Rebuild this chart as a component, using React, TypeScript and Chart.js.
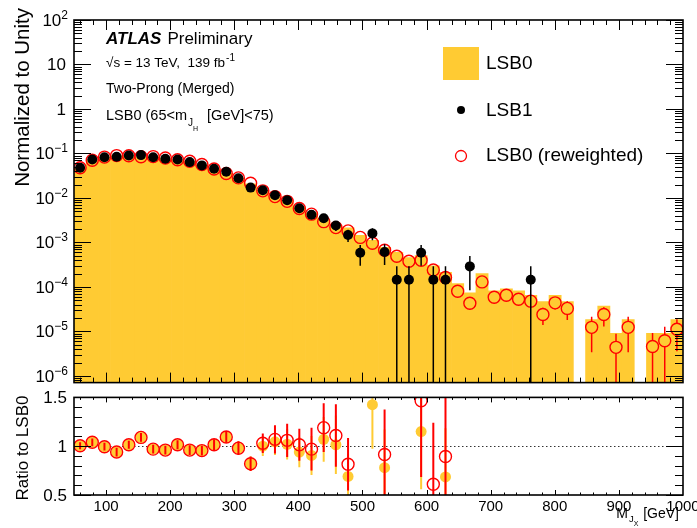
import React, { useEffect, useRef } from "react";
import { Chart, registerables } from "chart.js";

Chart.register(...registerables);

const FONT = '"Liberation Sans", Arimo, Arial, Helvetica, sans-serif';
const YELLOW = "#ffcb33";
const RED = "#ff0000";

// ---- data (bins of 19 GeV from 50 to 1000 GeV) ----
const binCenters = [
  59.5, 78.5, 97.5, 116.5, 135.5, 154.5, 173.5, 192.5, 211.5, 230.5,
  249.5, 268.5, 287.5, 306.5, 325.5, 344.5, 363.5, 382.5, 401.5, 420.5,
  439.5, 458.5, 477.5, 496.5, 515.5, 534.5, 553.5, 572.5, 591.5, 610.5,
  629.5, 648.5, 667.5, 686.5, 705.5, 724.5, 743.5, 762.5, 781.5, 800.5,
  819.5, 838.5, 857.5, 876.5, 895.5, 914.5, 933.5, 952.5, 971.5, 990.5,
];

const lsb0 = [
  0.0478, 0.0707, 0.083, 0.0897, 0.0887, 0.0844, 0.0852, 0.0792, 0.0724, 0.0667,
  0.0565, 0.0448, 0.0356, 0.0283, 0.0209, 0.0149, 0.011, 0.0087, 0.00628, 0.00464,
  0.00327, 0.00236, 0.00214, 0.00145, 0.00112, 0.00078, 0.0006, 0.00046, 0.00051, 0.0003,
  0.000213, 0.00012, 0.000074, 0.0002, 0.000082, 0.000091, 0.000082, 0.000065, 0.000047, 0.000065,
  0.000047, null, 0.0000186, 0.000037, 0.0000091, 0.0000186, null, 0.0000091, 0.0000091, 0.0000186,
];

const lsb1 = [
  0.048, 0.0735, 0.0826, 0.0843, 0.09, 0.092, 0.0826, 0.076, 0.0735, 0.064,
  0.054, 0.0455, 0.039, 0.0277, 0.0171, 0.0149, 0.0115, 0.0089, 0.0059, 0.0042,
  0.0035, 0.0024, 0.00148, 0.00059, 0.0016, 0.00061, 0.000146, 0.000146, 0.00059, 0.000146,
  0.000146, null, 0.00029, null, null, null, null, 0.000146, null, null,
  null, null, null, null, null, null, null, null, null, null,
];

const lsb1Err = [
  0.0026, 0.0033, 0.0035, 0.0035, 0.0036, 0.0037, 0.0035, 0.0033, 0.0033, 0.0031,
  0.0028, 0.0026, 0.0024, 0.002, 0.0016, 0.0015, 0.0013, 0.0011, 0.00093, 0.00078,
  0.00071, 0.00059, 0.00046, 0.00029, 0.00048, 0.0003, 0.000146, 0.000146, 0.00029, 0.000146,
  0.000146, null, 0.000206, null, null, null, null, 0.000146, null, null,
  null, null, null, null, null, null, null, null, null, null,
];

const lsb0Rew = [
  0.0478, 0.0707, 0.083, 0.0897, 0.0887, 0.0844, 0.0852, 0.0792, 0.0724, 0.0667,
  0.0565, 0.0448, 0.0356, 0.0283, 0.0215, 0.01447, 0.01075, 0.0084, 0.0058, 0.00433,
  0.00294, 0.00216, 0.00182, 0.0013, 0.00096, 0.00067, 0.00049, 0.00038, 0.0004, 0.00024,
  0.000163, 0.00008, 0.000043, 0.00013, 0.000059, 0.000065, 0.000053, 0.000048, 0.000024, 0.000044,
  0.000033, null, 0.0000124, 0.000024, 0.0000044, 0.0000124, null, 0.0000046, 0.0000062, 0.0000112,
];

const lsb0RewErr = [
  0.0012, 0.0015, 0.0016, 0.0017, 0.0017, 0.0016, 0.0016, 0.0015, 0.0014, 0.0013,
  0.0012, 0.001, 0.0009, 0.0008, 0.0006, 0.0005, 0.0004, 0.00035, 0.00028, 0.00022,
  0.00018, 0.00015, 0.00013, 0.0001, 0.00009, 0.00007, 0.00006, 0.00005, 0.00005, 0.00004,
  0.00003, 0.00002, 0.000012, 0.00003, 0.000012, 0.000013, 0.000012, 0.000011, 0.00001, 0.000013,
  0.000015, null, 0.000009, 0.000011, 0.0000045, 0.000009, null, 0.0000047, 0.0000065, 0.0000076,
];

const ratioLsb1ToLsb0 = [
  1.005, 1.04, 0.995, 0.94, 1.015, 1.09, 0.97, 0.96, 1.015, 0.96,
  0.955, 1.015, 1.095, 0.98, 0.82, 1.0, 1.045, 1.02, 0.94, 0.905,
  1.07, 1.015, 0.69, null, 1.425, 0.78, null, null, 1.15, null,
  0.685, null, null, null, null, null, null, null, null, null,
  null, null, null, null, null, null, null, null, null, null,
];

const ratioLsb1ToLsb0Err = [
  0.035, 0.04, 0.04, 0.045, 0.04, 0.045, 0.045, 0.045, 0.045, 0.05,
  0.05, 0.055, 0.06, 0.07, 0.075, 0.1, 0.135, 0.155, 0.155, 0.2,
  0.23, 0.3, 0.23, null, 0.45, 0.39, null, null, 0.59, null,
  0.5, null, null, null, null, null, null, null, null, null,
  null, null, null, null, null, null, null, null, null, null,
];

const ratioLsb1ToRew = [
  1.005, 1.04, 0.995, 0.94, 1.015, 1.09, 0.97, 0.96, 1.015, 0.96,
  0.955, 1.015, 1.095, 0.98, 0.82, 1.03, 1.07, 1.06, 1.015, 0.97,
  1.19, 1.11, 0.815, null, null, 0.915, null, null, 1.465, 0.61,
  0.895, null, null, null, null, null, null, null, null, null,
  null, null, null, null, null, null, null, null, null, null,
];

const ratioLsb1ToRewErr = [
  0.035, 0.04, 0.04, 0.045, 0.04, 0.045, 0.045, 0.045, 0.045, 0.05,
  0.05, 0.055, 0.06, 0.07, 0.075, 0.1, 0.145, 0.17, 0.165, 0.22,
  0.25, 0.32, 0.27, null, null, 0.46, null, null, 0.78, 0.63,
  0.65, null, null, null, null, null, null, null, null, null,
  null, null, null, null, null, null, null, null, null, null,
];

const xTickValues = [100, 200, 300, 400, 500, 600, 700, 800, 900, 1000];
const xTickLabels = ["100", "200", "300", "400", "500", "600", "700", "800", "900", "1000"];
const yDecadeExponents = [2, 1, 0, -1, -2, -3, -4, -5, -6];
const ratioTickValues = [0.5, 1, 1.5];
const ratioTickLabels = ["0.5", "1", "1.5"];

const X_MIN = 50;
const X_MAX = 1000;
const Y_MIN = 7.1e-7;
const Y_MAX = 100;

const W = 697;
const MAIN_H = 390;
const RATIO_H = 138;

function pts(values: (number | null)[]) {
  return binCenters.map((x, i) => ({ x, y: values[i] }));
}

const errorBarPlugin = {
  id: "errorBars",
  beforeDatasetDraw(chart: any, args: any) {
    const ds: any = chart.data.datasets[args.index];
    if (!ds.errors) return;
    const ctx = chart.ctx;
    const xs = chart.scales.x;
    const ys = chart.scales.y;
    const a = chart.chartArea;
    const isLog = ys.type === "logarithmic";
    ctx.save();
    ctx.beginPath();
    ctx.rect(a.left, a.top, a.right - a.left, a.bottom - a.top);
    ctx.clip();
    ctx.strokeStyle = ds.errColor;
    ctx.lineWidth = ds.errWidth;
    ds.data.forEach((p: any, i: number) => {
      const e = ds.errors[i];
      if (p.y == null || e == null) return;
      const px = xs.getPixelForValue(p.x);
      const py = ys.getPixelForValue(p.y);
      const hi = ys.getPixelForValue(p.y + e);
      const loV = p.y - e;
      const lo = isLog && loV <= 0 ? a.bottom + 5 : ys.getPixelForValue(loV);
      const gap = ds.errGap || 0;
      ctx.beginPath();
      if (gap > 0) {
        if (hi < py - gap) {
          ctx.moveTo(px, hi);
          ctx.lineTo(px, py - gap);
        }
        if (lo > py + gap) {
          ctx.moveTo(px, py + gap);
          ctx.lineTo(px, lo);
        }
      } else {
        ctx.moveTo(px, hi);
        ctx.lineTo(px, lo);
      }
      ctx.stroke();
    });
    ctx.restore();
  },
};

function drawXTicks(ctx: CanvasRenderingContext2D, xs: any, a: any, majorLen: number, minorLen: number) {
  ctx.beginPath();
  for (let v = 60; v < X_MAX; v += 20) {
    const isMajor = v % 100 === 0;
    const len = isMajor ? majorLen : minorLen;
    const px = Math.round(xs.getPixelForValue(v)) + 0.5;
    ctx.moveTo(px, a.bottom);
    ctx.lineTo(px, a.bottom - len);
    ctx.moveTo(px, a.top);
    ctx.lineTo(px, a.top + len);
  }
  ctx.stroke();
}

const mainDecorPlugin = {
  id: "mainDecor",
  afterDraw(chart: any) {
    const ctx: CanvasRenderingContext2D = chart.ctx;
    const a = chart.chartArea;
    const xs = chart.scales.x;
    const ys = chart.scales.y;
    ctx.save();
    ctx.strokeStyle = "#000";
    ctx.fillStyle = "#000";
    ctx.lineWidth = 1;
    drawXTicks(ctx, xs, a, 10, 5);
    // log y ticks
    ctx.beginPath();
    for (let e = -7; e <= 2; e++) {
      for (let m = 1; m <= 9; m++) {
        const v = m * Math.pow(10, e);
        if (v < Y_MIN || v > Y_MAX * 1.0001) continue;
        const len = m === 1 ? 17 : 8;
        const py = Math.round(ys.getPixelForValue(v)) + 0.5;
        ctx.moveTo(a.left, py);
        ctx.lineTo(a.left + len, py);
        ctx.moveTo(a.right, py);
        ctx.lineTo(a.right - len, py);
      }
    }
    ctx.stroke();
    // frame
    ctx.lineWidth = 1.6;
    ctx.strokeRect(a.left, a.top, a.right - a.left, a.bottom - a.top);

    // y labels
    ctx.textBaseline = "alphabetic";
    yDecadeExponents.forEach((e) => {
      const py = ys.getPixelForValue(Math.pow(10, e));
      const xr = 68;
      ctx.font = `17px ${FONT}`;
      if (e === 0 || e === 1) {
        ctx.textAlign = "right";
        ctx.fillText(e === 0 ? "1" : "10", xr - 2, py + 6);
        return;
      }
      const sup = e < 0 ? "\u2212" + String(-e) : String(e);
      ctx.font = `12px ${FONT}`;
      const sw = ctx.measureText(sup).width;
      ctx.textAlign = "left";
      ctx.fillText(sup, xr - sw, py - 1);
      ctx.font = `17px ${FONT}`;
      const bw = ctx.measureText("10").width;
      ctx.fillText("10", xr - sw - bw, py + 6);
    });

    // y title
    ctx.save();
    ctx.translate(23, 8);
    ctx.rotate(-Math.PI / 2);
    ctx.font = `20.5px ${FONT}`;
    ctx.textAlign = "right";
    ctx.textBaseline = "middle";
    ctx.fillText("Normalized to Unity", 0, 0);
    ctx.restore();

    // ATLAS labels
    ctx.textAlign = "left";
    ctx.textBaseline = "alphabetic";
    ctx.font = `italic bold 17px ${FONT}`;
    ctx.fillText("ATLAS", 106, 44);
    const aw = ctx.measureText("ATLAS").width;
    ctx.font = `17px ${FONT}`;
    ctx.fillText("Preliminary", 106 + aw + 6, 44);

    ctx.font = `13.5px ${FONT}`;
    const s1 = "\u221As = 13 TeV,  139 fb";
    ctx.fillText(s1, 106, 67);
    const s1w = ctx.measureText(s1).width;
    ctx.font = `10px ${FONT}`;
    ctx.fillText("-1", 106 + s1w + 1, 61);

    ctx.font = `14px ${FONT}`;
    ctx.fillText("Two-Prong (Merged)", 106, 93);

    ctx.font = `14.5px ${FONT}`;
    const l1 = "LSB0 (65<m";
    ctx.fillText(l1, 106, 120);
    let cx = 106 + ctx.measureText(l1).width;
    ctx.font = `10px ${FONT}`;
    ctx.fillText("J", cx + 1, 126);
    const jw = ctx.measureText("J").width;
    ctx.font = `7px ${FONT}`;
    ctx.fillText("H", cx + 1 + jw, 131);
    const hw = ctx.measureText("H").width;
    cx = cx + 3 + jw + hw + 3;
    ctx.font = `14.5px ${FONT}`;
    ctx.fillText(" [GeV]<75)", cx, 120);

    // legend
    ctx.fillStyle = YELLOW;
    ctx.fillRect(443, 47, 36, 33);
    ctx.fillStyle = "#000";
    ctx.beginPath();
    ctx.arc(461, 110, 4, 0, Math.PI * 2);
    ctx.fill();
    ctx.strokeStyle = RED;
    ctx.lineWidth = 1.3;
    ctx.beginPath();
    ctx.arc(461, 156, 5.5, 0, Math.PI * 2);
    ctx.stroke();
    ctx.fillStyle = "#000";
    ctx.font = `19px ${FONT}`;
    ctx.textBaseline = "middle";
    ctx.fillText("LSB0", 486, 64);
    ctx.fillText("LSB1", 486, 111);
    ctx.fillText("LSB0 (reweighted)", 486, 156);
    ctx.restore();
  },
};

const ratioDecorPlugin = {
  id: "ratioDecor",
  beforeDatasetsDraw(chart: any) {
    const ctx: CanvasRenderingContext2D = chart.ctx;
    const a = chart.chartArea;
    const ys = chart.scales.y;
    ctx.save();
    ctx.strokeStyle = "#333";
    ctx.lineWidth = 1;
    ctx.setLineDash([1.5, 2.5]);
    const py = Math.round(ys.getPixelForValue(1)) + 0.5;
    ctx.beginPath();
    ctx.moveTo(a.left, py);
    ctx.lineTo(a.right, py);
    ctx.stroke();
    ctx.restore();
  },
  afterDraw(chart: any) {
    const ctx: CanvasRenderingContext2D = chart.ctx;
    const a = chart.chartArea;
    const xs = chart.scales.x;
    const ys = chart.scales.y;
    ctx.save();
    ctx.strokeStyle = "#000";
    ctx.fillStyle = "#000";
    ctx.lineWidth = 1;
    drawXTicks(ctx, xs, a, 5, 2.5);
    ctx.beginPath();
    for (let k = 5; k <= 15; k++) {
      const v = k / 10;
      const len = k % 5 === 0 ? 17 : 8;
      const py = Math.round(ys.getPixelForValue(v)) + 0.5;
      ctx.moveTo(a.left, py);
      ctx.lineTo(a.left + len, py);
      ctx.moveTo(a.right, py);
      ctx.lineTo(a.right - len, py);
    }
    ctx.stroke();
    ctx.lineWidth = 1.6;
    ctx.strokeRect(a.left, a.top, a.right - a.left, a.bottom - a.top);

    // y labels
    ctx.font = `17px ${FONT}`;
    ctx.textAlign = "right";
    ctx.textBaseline = "middle";
    ratioTickValues.forEach((v, i) => {
      ctx.fillText(ratioTickLabels[i], 67, ys.getPixelForValue(v) + 1);
    });
    // x labels
    ctx.font = `15px ${FONT}`;
    ctx.textAlign = "center";
    ctx.textBaseline = "alphabetic";
    xTickValues.forEach((v, i) => {
      ctx.fillText(xTickLabels[i], xs.getPixelForValue(v), 121);
    });
    // x title
    ctx.textAlign = "left";
    ctx.font = `14px ${FONT}`;
    const mW = ctx.measureText("M").width;
    const gevW = ctx.measureText(" [GeV]").width;
    ctx.font = `9.5px ${FONT}`;
    const jW = ctx.measureText("J").width;
    ctx.font = `7px ${FONT}`;
    const xW = ctx.measureText("X").width;
    const x0 = 679 - (mW + jW + xW + 2 + gevW);
    ctx.font = `14px ${FONT}`;
    ctx.fillText("M", x0, 128);
    ctx.font = `9.5px ${FONT}`;
    ctx.fillText("J", x0 + mW + 1, 132);
    ctx.font = `7px ${FONT}`;
    ctx.fillText("X", x0 + mW + 1 + jW, 136);
    ctx.font = `14px ${FONT}`;
    ctx.fillText(" [GeV]", x0 + mW + jW + xW + 2, 128);

    // y title
    ctx.save();
    ctx.translate(23, 58);
    ctx.rotate(-Math.PI / 2);
    ctx.font = `17px ${FONT}`;
    ctx.textAlign = "center";
    ctx.textBaseline = "middle";
    ctx.fillText("Ratio to LSB0", 0, 0);
    ctx.restore();
    ctx.restore();
  },
};

export default function App() {
  const mainRef = useRef<HTMLCanvasElement | null>(null);
  const ratioRef = useRef<HTMLCanvasElement | null>(null);

  useEffect(() => {
    if (!mainRef.current || !ratioRef.current) return;
    const common: any = {
      responsive: false,
      maintainAspectRatio: false,
      animation: false,
      devicePixelRatio: 1,
      events: [],
      plugins: { legend: { display: false }, tooltip: { enabled: false } },
    };

    const main = new Chart(mainRef.current, {
      type: "bar",
      data: {
        datasets: [
          {
            type: "bar",
            label: "LSB0",
            data: pts(lsb0) as any,
            backgroundColor: YELLOW,
            borderWidth: 0,
            barPercentage: 1,
            categoryPercentage: 1,
            grouped: false,
            order: 3,
          } as any,
          {
            type: "scatter",
            label: "LSB0 (reweighted)",
            data: pts(lsb0Rew) as any,
            pointRadius: 6,
            pointBorderWidth: 1.4,
            pointBorderColor: RED,
            borderColor: RED,
            pointBackgroundColor: "rgba(0,0,0,0)",
            backgroundColor: "rgba(0,0,0,0)",
            order: 2,
            errors: lsb0RewErr,
            errColor: RED,
            errWidth: 1.5,
            errGap: 6,
          } as any,
          {
            type: "scatter",
            label: "LSB1",
            data: pts(lsb1) as any,
            pointRadius: 5,
            pointBorderWidth: 0,
            pointBackgroundColor: "#000",
            backgroundColor: "#000",
            borderColor: "#000",
            order: 1,
            errors: lsb1Err,
            errColor: "#000",
            errWidth: 1.5,
            errGap: 0,
          } as any,
        ],
      },
      options: {
        ...common,
        layout: { padding: { left: 74, right: W - 683, top: 20, bottom: MAIN_H - 385 } },
        scales: {
          x: { type: "linear", min: X_MIN, max: X_MAX, display: false, bounds: "data", offset: false, grace: 0 } as any,
          y: { type: "logarithmic", min: Y_MIN, max: Y_MAX, display: false, bounds: "data" } as any,
        },
      },
      plugins: [errorBarPlugin, mainDecorPlugin],
    });

    const ratio = new Chart(ratioRef.current, {
      type: "scatter",
      data: {
        datasets: [
          {
            label: "LSB1 / LSB0",
            data: pts(ratioLsb1ToLsb0) as any,
            pointRadius: 5.5,
            pointBorderWidth: 0,
            pointBackgroundColor: YELLOW,
            backgroundColor: YELLOW,
            borderColor: YELLOW,
            order: 2,
            errors: ratioLsb1ToLsb0Err,
            errColor: YELLOW,
            errWidth: 2,
            errGap: 0,
          } as any,
          {
            label: "LSB1 / LSB0 (reweighted)",
            data: pts(ratioLsb1ToRew) as any,
            pointRadius: 6,
            pointBorderWidth: 1.4,
            pointBorderColor: RED,
            borderColor: RED,
            pointBackgroundColor: "rgba(0,0,0,0)",
            backgroundColor: "rgba(0,0,0,0)",
            order: 1,
            errors: ratioLsb1ToRewErr,
            errColor: RED,
            errWidth: 2,
            errGap: 0,
          } as any,
        ],
      },
      options: {
        ...common,
        layout: { padding: { left: 74, right: W - 683, top: 5, bottom: RATIO_H - 105 } },
        scales: {
          x: { type: "linear", min: X_MIN, max: X_MAX, display: false, bounds: "data", offset: false } as any,
          y: { type: "linear", min: 0.5, max: 1.5, display: false, bounds: "data" } as any,
        },
      },
      plugins: [errorBarPlugin, ratioDecorPlugin],
    });

    return () => {
      main.destroy();
      ratio.destroy();
    };
  }, []);

  return (
    <div style={{ position: "absolute", left: 0, top: 0, width: W, height: MAIN_H + RATIO_H, background: "#fff" }}>
      <canvas
        ref={mainRef}
        width={W}
        height={MAIN_H}
        style={{ position: "absolute", left: 0, top: 0, width: W, height: MAIN_H, display: "block" }}
      />
      <canvas
        ref={ratioRef}
        width={W}
        height={RATIO_H}
        style={{ position: "absolute", left: 0, top: MAIN_H, width: W, height: RATIO_H, display: "block" }}
      />
    </div>
  );
}
